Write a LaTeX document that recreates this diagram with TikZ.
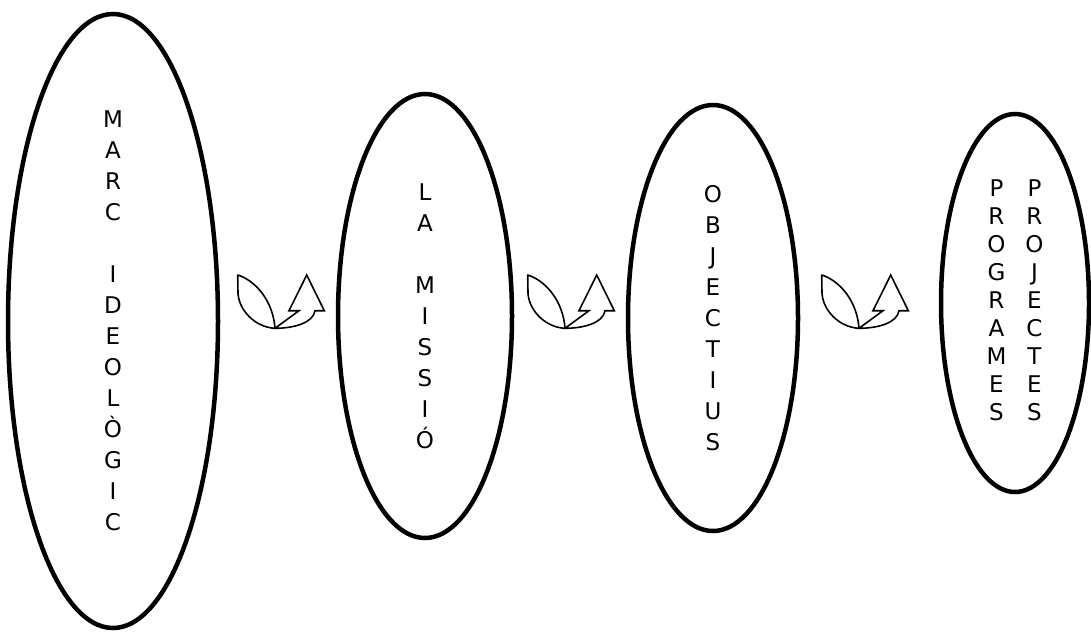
\documentclass[tikz,border=0pt]{standalone}
\usepackage{fontspec}
\setmainfont{DejaVu Sans}
\usetikzlibrary{shapes.geometric}

\tikzset{
    stage/.style={ellipse, draw=black, line width=4.5pt, inner sep=0pt, align=center,
        font=\fontsize{23}{31}\selectfont},
    pics/leafarrow/.style={code={
        % leaf
        \draw[line width=1.6pt, line join=round] (0,0) .. controls (-20,-1) and (-36,-18) .. (-37,-35)
            -- (-37.3,-53.3) .. controls (-20,-48) and (-2,-28) .. (0,0);
        % curved arrow
        \draw[line width=1.6pt] (0,0) -- (24,-17.6) -- (14,-17.6) -- (31.7,-53.3) -- (49.3,-17.6)
            -- (40,-17.6) .. controls (38,-5) and (18,0) .. cycle;
    }}
}

\begin{document}
\begin{tikzpicture}[x=1pt,y=-1pt]
    \useasboundingbox (0,0) rectangle (1091,632);

    % Draw the four stages
    \node[stage, minimum width=210pt, minimum height=614pt] (marc) at (113,321)
        {M\\A\\R\\C\\[31pt]I\\D\\E\\O\\L\\Ò\\G\\I\\C};
    \node[stage, minimum width=174pt, minimum height=444pt] (missio) at (425,316)
        {L\\A\\[31pt]M\\I\\S\\S\\I\\Ó};
    \node[stage, minimum width=170pt, minimum height=426pt] (objectius) at (713,318)
        {O\\B\\J\\E\\C\\T\\I\\U\\S};
    \node[stage, minimum width=148pt, minimum height=378pt, font=\fontsize{23}{28}\selectfont] (programes) at (1015,303)
        {\begin{tabular}{c@{\hspace{19pt}}c}
         P&P\\R&R\\O&O\\G&J\\R&E\\A&C\\M&T\\E&E\\S&S
         \end{tabular}};

    % Leaf arrows between the stages
    \coordinate (stepA) at (275,328.3);
    \coordinate (stepB) at (565,328.3);
    \coordinate (stepC) at (859,328.3);
    \foreach \p in {stepA,stepB,stepC}
        \pic at (\p) {leafarrow};

\end{tikzpicture}
\end{document}
